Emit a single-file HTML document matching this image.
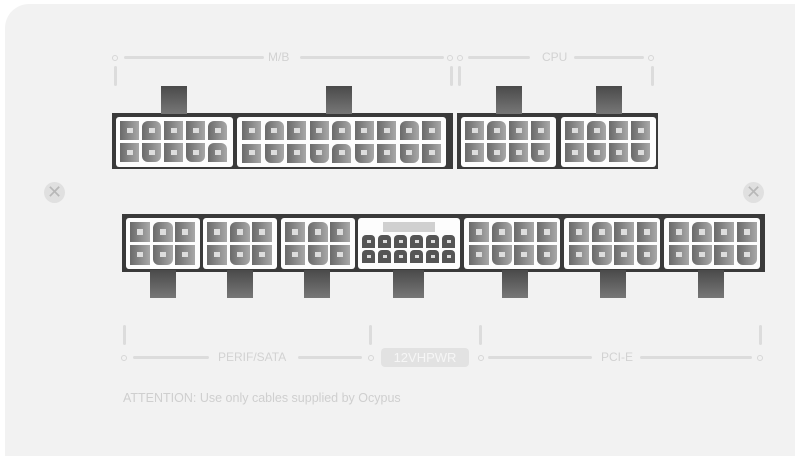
<!DOCTYPE html>
<html><head><meta charset="utf-8"><style>
html,body{margin:0;padding:0;background:#fff;}
#p{position:relative;width:800px;height:461px;overflow:hidden;font-family:"Liberation Sans",sans-serif;}
.panel{position:absolute;left:5px;top:4px;width:790px;height:452px;background:#f2f2f2;border-radius:24px 0 0 0;}
.bk{position:absolute;background:#3a3a3a;}
.tab{position:absolute;background:linear-gradient(#4a4a4a,#777);}
.body{position:absolute;background:#fdfdfd;border-radius:3px;}
.c{position:absolute;width:19px;height:19px;background:linear-gradient(90deg,#6a6a6a,#a8a8a8);}
.c::after{content:"";position:absolute;left:35%;top:35%;width:32%;height:28%;background:#ddd;}
.ln{position:absolute;background:#dcdcdc;border-radius:2px;}
.dot{position:absolute;width:4px;height:4px;border:1.5px solid #d6d6d6;border-radius:50%;}
.lbl{position:absolute;color:#d2d2d2;font-size:12px;background:#f2f2f2;padding:0 4px;}
.screw{position:absolute;width:21px;height:21px;border-radius:50%;background:#e0e0e0;color:#b8b8b8;font-size:18px;line-height:21px;text-align:center;}
</style></head><body><div id="p">
<div class="panel"></div>
<div class="bk" style="left:112px;top:113px;width:341px;height:56px"></div>
<div class="bk" style="left:457px;top:113px;width:201px;height:56px"></div>
<div class="bk" style="left:122px;top:214px;width:643px;height:58px"></div>
<div class="screw" style="left:44px;top:182px">✕</div>
<div class="screw" style="left:743px;top:182px">✕</div>
<div class="ln" style="left:124px;top:56px;width:140px;height:3px"></div>
<div class="ln" style="left:300px;top:56px;width:144px;height:3px"></div>
<div class="ln" style="left:468px;top:56px;width:62px;height:3px"></div>
<div class="ln" style="left:574px;top:56px;width:70px;height:3px"></div>
<div class="dot" style="left:112px;top:55px"></div>
<div class="dot" style="left:447px;top:55px"></div>
<div class="dot" style="left:457px;top:55px"></div>
<div class="dot" style="left:648px;top:55px"></div>
<div class="lbl" style="left:264px;top:50px">M/B</div>
<div class="lbl" style="left:538px;top:50px">CPU</div>
<div class="ln" style="left:114px;top:66px;width:3px;height:20px"></div>
<div class="ln" style="left:450px;top:66px;width:3px;height:20px"></div>
<div class="ln" style="left:458px;top:66px;width:3px;height:20px"></div>
<div class="ln" style="left:651px;top:66px;width:3px;height:20px"></div>
<div class="ln" style="left:123px;top:325px;width:3px;height:20px"></div>
<div class="ln" style="left:369px;top:325px;width:3px;height:20px"></div>
<div class="ln" style="left:479px;top:325px;width:3px;height:20px"></div>
<div class="ln" style="left:759px;top:325px;width:3px;height:20px"></div>
<div class="dot" style="left:121px;top:355px"></div>
<div class="dot" style="left:368px;top:355px"></div>
<div class="dot" style="left:478px;top:355px"></div>
<div class="dot" style="left:757px;top:355px"></div>
<div class="ln" style="left:133px;top:356px;width:76px;height:3px"></div>
<div class="ln" style="left:298px;top:356px;width:64px;height:3px"></div>
<div class="ln" style="left:488px;top:356px;width:104px;height:3px"></div>
<div class="ln" style="left:640px;top:356px;width:112px;height:3px"></div>
<div class="lbl" style="left:214px;top:350px">PERIF/SATA</div>
<div class="lbl" style="left:597px;top:350px">PCI-E</div>
<div style="position:absolute;left:381px;top:348px;width:88px;height:19px;background:#e2e2e2;border-radius:4px;color:#f6f6f6;font-size:13px;line-height:19px;text-align:center">12VHPWR</div>
<div style="position:absolute;left:123px;top:391px;color:#cfcfcf;font-size:12.5px">ATTENTION: Use only cables supplied by Ocypus</div>
<div id="g"></div>
</div>
<script>
var g=document.getElementById('g'),h='';
function tab(x,y,w,hh){h+='<div class="tab" style="left:'+x+'px;top:'+y+'px;width:'+w+'px;height:'+hh+'px"></div>';}
function con(x,y,cols,w,hh,cs,gap,ox,oy){
 h+='<div class="body" style="left:'+x+'px;top:'+y+'px;width:'+w+'px;height:'+hh+'px"></div>';
 for(var r=0;r<2;r++)for(var c=0;c<cols;c++){
  h+='<div class="c" style="left:'+(x+ox+c*(cs+gap))+'px;top:'+(y+oy+r*(cs+gap))+'px;width:'+cs+'px;height:'+cs+'px;border-radius:'+(r==1&&c%2?'0 0 6px 6px':(c%3==1?'6px 6px 0 0':'0'))+'"></div>';
 }
}
tab(161,86,26,28);tab(326,86,26,28);tab(496,86,26,28);tab(596,86,26,28);
con(116,117,5,117,50,19,3,4,4);
con(237,117,9,209,50,19,3.5,5,4);
con(461,117,4,95,50,19,3,4,4);
con(561,117,4,95,50,19,3,4,4);
[[150,26],[227,26],[304,26],[393,31],[502,26],[600,26],[698,26]].forEach(function(t){tab(t[0],270,t[1],28);});
con(126,218,3,74,51,20,2.5,4,4);
con(203,218,3,74,51,20,2.5,4,4);
con(281,218,3,74,51,20,2.5,4,4);
h+='<div class="body" style="left:358px;top:218px;width:102px;height:51px"></div><div style="position:absolute;left:383px;top:222px;width:52px;height:10px;background:#d0d0d0"></div>';
for(var r=0;r<2;r++)for(var c=0;c<6;c++)h+='<div class="c" style="left:'+(362+c*16)+'px;top:'+(235+r*15)+'px;width:13px;height:13px;background:#555;border-radius:4px 4px 0 0"></div>';
con(464,218,4,96,51,20,2.5,5,4);
con(564,218,4,96,51,20,2.5,5,4);
con(664,218,4,96,51,20,2.5,5,4);
g.innerHTML=h;
</script>
</body></html>
